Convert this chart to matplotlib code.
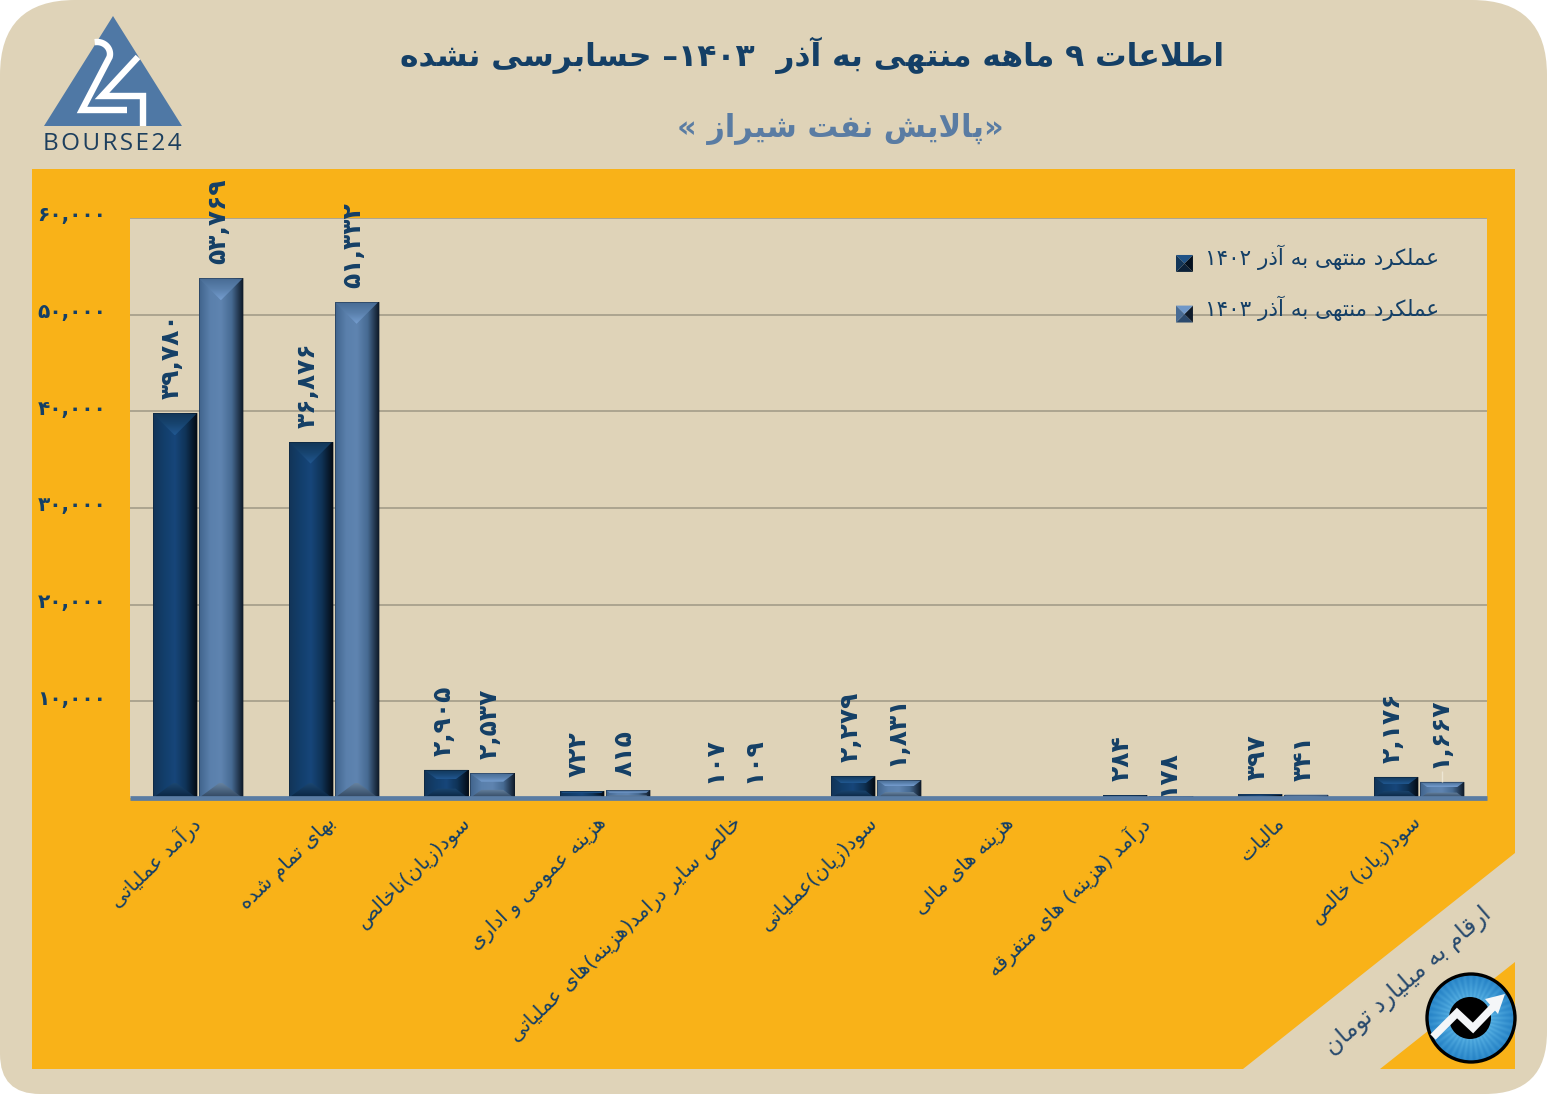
import re
import numpy as np
import matplotlib
matplotlib.use("Agg")
import matplotlib.pyplot as plt
from matplotlib.path import Path
from matplotlib.patches import PathPatch, Polygon, Circle, Rectangle
from matplotlib.legend_handler import HandlerBase
from matplotlib.transforms import ScaledTranslation

plt.rcParams['font.family'] = ['DejaVu Sans']

# ------------------- data -------------------
categories = ["درآمد عملیاتی", "بهای تمام شده", "سود(زیان)ناخالص", "هزینه عمومی و اداری",
              "خالص سایر درامد(هزینه)های عملیاتی", "سود(زیان)عملیاتی", "هزینه های مالی",
              "درآمد (هزینه) های متفرقه", "مالیات", "سود(زیان) خالص"]
values_1402 = [39780, 36876, 2905, 722, 107, 2279, np.nan, 284, 397, 2176]
values_1403 = [53769, 51332, 2537, 815, 109, 1831, np.nan, 178, 341, 1667]
series_names = ["عملکرد منتهی به آذر ۱۴۰۲", "عملکرد منتهی به آذر ۱۴۰۳"]
y_ticks = [10000, 20000, 30000, 40000, 50000, 60000]
title_text = "اطلاعات ۹ ماهه منتهی به آذر  ۱۴۰۳– حسابرسی نشده"
subtitle_text = "«پالایش نفت شیراز »"
unit_text = "ارقام به میلیارد تومان"

# ------------------- Persian shaping (matplotlib draws glyphs left to right, unjoined) -------------------
F = {'ا':(0xFE8D,0xFE8E),'آ':(0xFE81,0xFE82),'د':(0xFEA9,0xFEAA),'ذ':(0xFEAB,0xFEAC),'ر':(0xFEAD,0xFEAE),
     'ز':(0xFEAF,0xFEB0),'ژ':(0xFB8A,0xFB8B),'و':(0xFEED,0xFEEE),
     'ب':(0xFE8F,0xFE90,0xFE91,0xFE92),'پ':(0xFB56,0xFB57,0xFB58,0xFB59),'ت':(0xFE95,0xFE96,0xFE97,0xFE98),
     'ث':(0xFE99,0xFE9A,0xFE9B,0xFE9C),'ج':(0xFE9D,0xFE9E,0xFE9F,0xFEA0),'چ':(0xFB7A,0xFB7B,0xFB7C,0xFB7D),
     'ح':(0xFEA1,0xFEA2,0xFEA3,0xFEA4),'خ':(0xFEA5,0xFEA6,0xFEA7,0xFEA8),'س':(0xFEB1,0xFEB2,0xFEB3,0xFEB4),
     'ش':(0xFEB5,0xFEB6,0xFEB7,0xFEB8),'ص':(0xFEB9,0xFEBA,0xFEBB,0xFEBC),'ض':(0xFEBD,0xFEBE,0xFEBF,0xFEC0),
     'ط':(0xFEC1,0xFEC2,0xFEC3,0xFEC4),'ظ':(0xFEC5,0xFEC6,0xFEC7,0xFEC8),'ع':(0xFEC9,0xFECA,0xFECB,0xFECC),
     'غ':(0xFECD,0xFECE,0xFECF,0xFED0),'ف':(0xFED1,0xFED2,0xFED3,0xFED4),'ق':(0xFED5,0xFED6,0xFED7,0xFED8),
     'ک':(0xFB8E,0xFB8F,0xFB90,0xFB91),'گ':(0xFB92,0xFB93,0xFB94,0xFB95),'ل':(0xFEDD,0xFEDE,0xFEDF,0xFEE0),
     'م':(0xFEE1,0xFEE2,0xFEE3,0xFEE4),'ن':(0xFEE5,0xFEE6,0xFEE7,0xFEE8),'ه':(0xFEE9,0xFEEA,0xFEEB,0xFEEC),
     'ی':(0xFBFC,0xFBFD,0xFBFE,0xFBFF)}
MIRROR = str.maketrans("()«»", ")(»«")

def fa(s):
    out = []
    chars = list(s)
    i = 0
    prev_joins = False
    while i < len(chars):
        c = chars[i]
        if c == 'ل' and i + 1 < len(chars) and chars[i + 1] in 'اآ':
            lig = {'ا': (0xFEFB, 0xFEFC), 'آ': (0xFEF5, 0xFEF6)}[chars[i + 1]]
            out.append(chr(lig[1 if prev_joins else 0]))
            prev_joins = False
            i += 2
            continue
        if c in F:
            nxt = chars[i + 1] if i + 1 < len(chars) else ''
            forms = F[c]
            next_ok = nxt in F and len(forms) == 4
            if prev_joins and next_ok:
                g = forms[3]
            elif prev_joins:
                g = forms[1]
            elif next_ok:
                g = forms[2]
            else:
                g = forms[0]
            out.append(chr(g))
            prev_joins = len(forms) == 4
        else:
            out.append(c)
            prev_joins = False
        i += 1
    vis = ''.join(out)[::-1].translate(MIRROR)
    return re.sub(r'[۰-۹,]+', lambda m: m.group(0)[::-1], vis)

def fa_num(v):
    return f"{v:,}".translate(str.maketrans("0123456789", "۰۱۲۳۴۵۶۷۸۹"))

# ------------------- colours -------------------
BEIGE = '#DFD3B8'
ORANGE = '#F9B218'
NAVY = '#143F66'
STEEL = '#5A7CA3'
DARK_STOPS = ['#123558', '#123E6B', '#17467A', '#0F3357', '#040C16']
LIGHT_STOPS = ['#41648C', '#5A80AC', '#5F84B0', '#466A92', '#101C2B']

W, H = 1547, 1094
fig = plt.figure(figsize=(W / 100, H / 100), dpi=100, facecolor='white')

# ------------------- background layer in pixel coordinates -------------------
bg = fig.add_axes([0, 0, 1, 1], zorder=0)
bg.set_xlim(0, W); bg.set_ylim(H, 0); bg.axis('off')
rtl, rtr, rbr, rbl = 75, 75, 62, 40
verts = [(rtl, 0), (W - rtr, 0), (W, 0), (W, rtr), (W, H - rbr), (W, H), (W - rbr, H), (rbl, H), (0, H),
         (0, H - rbl), (0, rtl), (0, 0), (rtl, 0)]
codes = [Path.MOVETO, Path.LINETO, Path.CURVE3, Path.CURVE3, Path.LINETO, Path.CURVE3, Path.CURVE3,
         Path.LINETO, Path.CURVE3, Path.CURVE3, Path.LINETO, Path.CURVE3, Path.CURVE3]
bg.add_patch(PathPatch(Path(verts, codes), fc=BEIGE, ec='none'))
bg.add_patch(Polygon([(32, 169), (1515, 169), (1515, 853), (1243, 1069), (32, 1069)], fc=ORANGE, ec='none'))
bg.add_patch(Polygon([(1515, 962), (1515, 1069), (1380, 1069)], fc=ORANGE, ec='none'))

# logo
bg.add_patch(Polygon([(113, 16), (44, 126), (182, 126)], fc='#4F78A5', ec='none'))
t = np.radians(np.linspace(-100, 15, 24))
two_x = list(97 + 13 * np.cos(t)); two_y = list(54 + 12 * np.sin(t))
bg.plot(two_x + [82, 127], two_y + [110, 110], color='white', lw=4.6, solid_joinstyle='miter', solid_capstyle='butt')
bg.plot([138, 102, 143, 143], [57, 96, 96, 126], color='white', lw=4.6, solid_joinstyle='miter', solid_capstyle='butt')
bg.text(112.5, 144, "\u200a".join("BOURSE24"), ha='center', va='center', fontsize=17.5,
        family=['Open Sans', 'DejaVu Sans'], color='#1D3F5E')

# titles
bg.text(812, 55, fa(title_text), ha='center', va='center', fontsize=22.6, fontweight='bold', color=NAVY)
bg.text(840, 129, fa(subtitle_text), ha='center', va='center', fontsize=22, fontweight='bold', color=STEEL)
bg.text(1408, 981, fa(unit_text), ha='center', va='center', fontsize=17, rotation=41,
        rotation_mode='anchor', color='#27496D')

# round badge
yy, xx = np.mgrid[-1:1:200j, -1:1:200j]
r = np.hypot(xx, yy)
ang = np.arctan2(yy, xx)
shade = np.clip(0.5 + 0.5 * (1 - r) + 0.05 * np.cos(ang * 40), 0, 1)
c0, c1 = np.array([0.05, 0.42, 0.72]), np.array([0.50, 0.84, 0.98])
img = c0 + (c1 - c0)[None, None, :] * shade[..., None] ** 2
im = bg.imshow(img, extent=[1427, 1515, 1062, 974], aspect='auto', zorder=3, interpolation='bilinear')
im.set_clip_path(Circle((1471, 1018), 44, transform=bg.transData))
bg.set_xlim(0, W); bg.set_ylim(H, 0)
bg.add_patch(Circle((1471, 1018), 44, fc='none', ec='black', lw=2.4, zorder=5))
bg.add_patch(Circle((1470, 1018), 21, fc='black', ec='none', zorder=4))
bg.plot([1433, 1457, 1473, 1496], [1037, 1013, 1028, 1004], color='#F4F6F8', lw=5.5,
        solid_joinstyle='miter', solid_capstyle='butt', zorder=5)
bg.add_patch(Polygon([(1505, 994), (1498, 1014), (1485, 999)], fc='#F4F6F8', ec='none', zorder=5))

# ------------------- chart -------------------
ax = fig.add_axes([130 / W, 1 - 798 / H, (1487 - 130) / W, (798 - 218) / H], zorder=1)
ax.set_facecolor(BEIGE)
ax.set_xlim(0, len(categories)); ax.set_ylim(0, 60000)
for s in ['top', 'right', 'left']:
    ax.spines[s].set_visible(False)
ax.spines['bottom'].set_color(STEEL); ax.spines['bottom'].set_linewidth(3.4)
ax.spines['bottom'].set_capstyle('butt')
ax.spines['bottom'].set_zorder(6)
ax.set_axisbelow(True)
ax.yaxis.grid(True, color='#A8A18C', lw=1.3)
ax.set_yticks(y_ticks)
ax.set_yticklabels([fa_num(v) for v in y_ticks], fontsize=14.5, fontweight='bold', color=NAVY)
ax.tick_params(axis='both', length=0)
ax.tick_params(axis='y', pad=17)
up = ScaledTranslation(0, 4 / 100, fig.dpi_scale_trans)
for lab in ax.get_yticklabels():
    lab.set_transform(lab.get_transform() + up)
x = np.arange(len(categories)) + 0.5
ax.set_xticks(x)
ax.set_xticklabels([fa(c) for c in categories], rotation=44, ha='right', va='top', rotation_mode='anchor',
                   fontsize=14.6, color=NAVY)
ax.tick_params(axis='x', pad=16)
nudge = ScaledTranslation(-8 / 100, 7 / 100, fig.dpi_scale_trans)
for lab in ax.get_xticklabels():
    lab.set_transform(lab.get_transform() + nudge)

px_y = 60000 / 580
px_x = len(categories) / 1357
bar_w = 44 * px_x
off = 23 * px_x
def lerp_cmap(stops):
    return matplotlib.colors.LinearSegmentedColormap.from_list('g', stops)

def draw_bevels(rect, stops, top_cols, bot_cols):
    x0, w, h = rect.get_x(), rect.get_width(), rect.get_height()
    if not np.isfinite(h) or h <= 0:
        return
    im = ax.imshow(np.linspace(0, 1, 64)[None, :], extent=[x0, x0 + w, 0, h], cmap=lerp_cmap(stops),
                   aspect='auto', zorder=2.5, interpolation='bilinear')
    im.set_clip_path(rect)
    hp = h / px_y
    b = min(22, hp / 3)
    ins = min(22, b * 1.35)
    bb = min(15, hp / 3)
    insb = min(22, bb * 1.35)
    top = [(x0, h), (x0 + w, h), (x0 + w - ins * px_x, h - b * px_y), (x0 + ins * px_x, h - b * px_y)]
    bot = [(x0, 0), (x0 + w, 0), (x0 + w - insb * px_x, bb * px_y), (x0 + insb * px_x, bb * px_y)]
    if hp > 40:
        pt = Polygon([(x0, h), (x0 + w, h), (x0 + w / 2, h - 22 * px_y)], ec='none', fc='none', zorder=2.6)
    else:
        pt = Polygon(top, ec='none', fc='none', zorder=2.6)
    pb = Polygon(bot, ec='none', fc='none', zorder=2.6)
    ax.add_patch(pt); ax.add_patch(pb)
    g1 = ax.imshow(np.linspace(0, 1, 32)[:, None], extent=[x0, x0 + w, h - b * px_y, h], origin='upper',
                   cmap=lerp_cmap(top_cols), aspect='auto', zorder=2.7)
    g1.set_clip_path(pt)
    g2 = ax.imshow(np.linspace(0, 1, 32)[:, None], extent=[x0, x0 + w, 0, bb * px_y], origin='upper',
                   cmap=lerp_cmap(bot_cols), aspect='auto', zorder=2.7)
    g2.set_clip_path(pb)
    ax.add_patch(Rectangle((x0, 0), w, h, fc='none', ec='#0A1624', lw=0.5, alpha=0.5, zorder=2.8))

bars_a = ax.bar(x - off, values_1402, bar_w, color='#123E6B', zorder=2, label=series_names[0])
bars_b = ax.bar(x + off, values_1403, bar_w, color='#5A80AC', zorder=2, label=series_names[1])
for rect in bars_a:
    draw_bevels(rect, DARK_STOPS, ['#123758', '#174470', '#215790'], ['#1B4670', '#0A2440'])
for rect in bars_b:
    draw_bevels(rect, LIGHT_STOPS, ['#486B94', '#5A80AC', '#759DCF'], ['#66829F', '#2F455F'])
ax.set_xlim(0, len(categories)); ax.set_ylim(0, 60000)

# value labels: (dx, gap) in pixels from the top of each bar
shift_x_b = {4: -10}
gap_b = {7: 0}
for i, (va_, vb_) in enumerate(zip(values_1402, values_1403)):
    if np.isfinite(va_):
        ax.annotate(fa_num(va_), (x[i] - off, va_), xytext=(-3 * .72, 14 * .72), textcoords='offset points',
                    rotation=90, ha='center', va='bottom', fontsize=18, fontweight='bold', color=NAVY, zorder=7)
    if np.isfinite(vb_):
        ax.annotate(fa_num(vb_), (x[i] + off, vb_), xytext=(shift_x_b.get(i, -3) * .72, gap_b.get(i, 14) * .72),
                    textcoords='offset points', rotation=90, ha='center', va='bottom', fontsize=18,
                    fontweight='bold', color=NAVY, zorder=7)
# faint leader line under the last label
ax.vlines(x[9] + off, values_1403[9], values_1403[9] + 11 * px_y, color='#EDE6D4', lw=1, zorder=3)

# legend
class BevelHandler(HandlerBase):
    def __init__(self, stops):
        super().__init__()
        self.stops = stops
    def create_artists(self, legend, orig, xd, yd, width, height, fontsize, trans):
        s = 12.2
        x0, y0 = -xd, -yd + (height - s) / 2 - 4
        c = x0 + s / 2, y0 + s / 2
        corners = [(x0, y0), (x0 + s, y0), (x0 + s, y0 + s), (x0, y0 + s)]
        out = []
        for k, col in enumerate(self.stops):
            out.append(Polygon([corners[k], corners[(k + 1) % 4], c], fc=col, ec='none', transform=trans))
        return out

leg = ax.legend(handles=[bars_a, bars_b], labels=[fa(n) for n in series_names],
                handler_map={bars_a: BevelHandler(['#0C2138', '#04101E', '#1F5286', '#123558']),
                             bars_b: BevelHandler(['#2C4A6D', '#101C2B', '#6F97C8', '#486B94'])},
                loc='upper left', bbox_to_anchor=(1176 / W, 1 - 245 / H), bbox_transform=fig.transFigure,
                frameon=False, fontsize=15.5, borderpad=0, borderaxespad=0, handlelength=0.78, handletextpad=0.56,
                labelspacing=1.17, labelcolor=NAVY)
leg.set_zorder(8)

fig.savefig('out.png', dpi=100, facecolor='white')
